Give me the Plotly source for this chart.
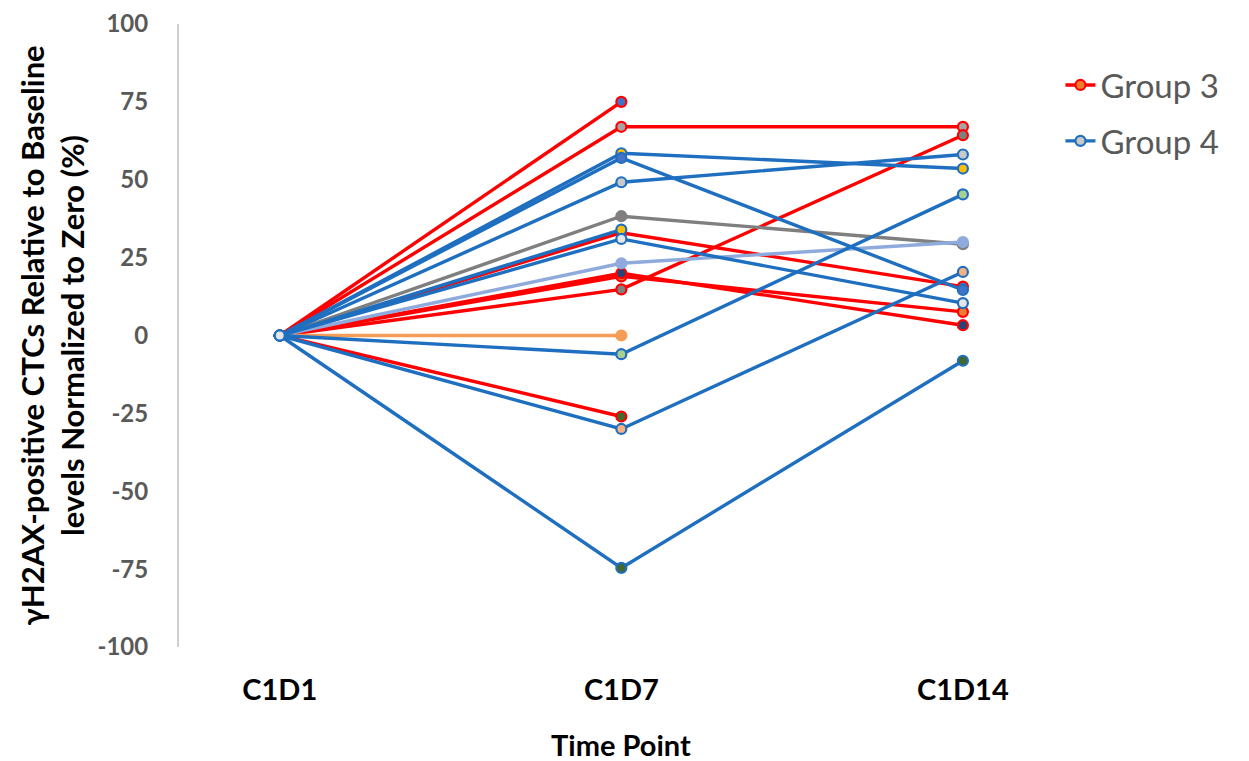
import plotly.graph_objects as go

time_points = ["C1D1", "C1D7", "C1D14"]
y_ticks = [-100, -75, -50, -25, 0, 25, 50, 75, 100]
y_tick_labels = ["-100", "-75", "-50", "-25", "0", "25", "50", "75", "100"]

# Group 3 patients (red lines)
group3 = [
    [0, 75, None],
    [0, 67, 67],
    [0, 33, 15.7],
    [0, 19, 7.6],
    [0, 20, 3.3],
    [0, 14.8, 64.3],
    [0, -26, None],
]
# Group 4 patients (blue lines)
group4 = [
    [0, 58.5, 53.6],
    [0, 57, 14.6],
    [0, 49.2, 58.1],
    [0, 34, None],
    [0, -6, 45.3],
    [0, -30, 20.4],
    [0, -74.6, -8.1],
    [0, 31, 10.4],
]
# Other patients
grey_series = [0, 38.3, 29.3]
lightblue_series = [0, 23.2, 30]
orange_series = [0, 0, None]

g3_fills = ["#4472C4", "#A5A5A5", "#4472C4", "#ED7D31", "#264478", "#7F7F7F", "#43682B"]
g4_fills = ["#FFC000", "#4472C4", "#C9C9C9", "#FFC000", "#A9D18E", "#F4B183", "#43682B", "#E7E6E6"]

RED = "#FF0000"
BLUE = "#1F6FC0"
x_idx = [0, 1, 2]

fig = go.Figure()


def add(vals, line_color, fill, name=None, show=False, group=None):
    fig.add_trace(go.Scatter(
        x=x_idx, y=vals, mode="lines+markers",
        line=dict(color=line_color, width=3.4),
        marker=dict(size=10, color=fill, line=dict(color=line_color, width=2.2)),
        name=name, showlegend=show, legendgroup=group,
        connectgaps=False,
    ))


for i, v in enumerate(group3):
    add(v, RED, g3_fills[i], name="Group 3", show=(i == 3), group="g3")
add(orange_series, "#F59D56", "#F59D56")
add(grey_series, "#7F7F7F", "#7F7F7F")
add(lightblue_series, "#8FAADC", "#8FAADC")
for i, v in enumerate(group4):
    add(v, BLUE, g4_fills[i], name="Group 4", show=(i == 2), group="g4")

FONT = "Lato, 'Open Sans', sans-serif"

fig.update_layout(
    width=1249, height=761,
    margin=dict(l=171, r=193, t=16, b=122),
    paper_bgcolor="white", plot_bgcolor="white",
    font=dict(family=FONT),
    showlegend=True,
    legend=dict(
        x=0.996, y=0.947, xanchor="left", yanchor="top",
        font=dict(size=33, color="#595959", family=FONT),
        traceorder="grouped", tracegroupgap=10,
        bgcolor="rgba(0,0,0,0)",
    ),
    xaxis=dict(
        range=[-0.295, 2.296],
        tickvals=x_idx, ticktext=time_points,
        showgrid=False, zeroline=False, showline=False, ticks="",
        tickfont=dict(size=29, color="#000000", family=FONT, weight="bold"),
        ticklabelstandoff=23,
        automargin=False,
    ),
    yaxis=dict(
        range=[-100, 100],
        tickvals=y_ticks, ticktext=y_tick_labels,
        showgrid=False, zeroline=False,
        showline=True, linecolor="#D0D0D0", linewidth=2,
        ticks="",
        tickfont=dict(size=24, color="#595959", family=FONT, weight="bold"),
        ticklabelstandoff=24,
        ticklabeloverflow="allow",
        automargin=False,
    ),
    annotations=[
        dict(
            text="γH2AX-positive CTCs Relative to Baseline<br>levels Normalized to Zero (%)",
            xref="paper", yref="paper", x=-0.1446, y=0.5,
            xanchor="center", yanchor="middle", textangle=-90, showarrow=False,
            font=dict(size=31, color="#000000", family=FONT, weight="bold"),
        ),
        dict(
            text="Time Point",
            xref="paper", yref="paper", x=0.499, y=-0.157,
            xanchor="center", yanchor="middle", showarrow=False,
            font=dict(size=29, color="#000000", family=FONT, weight="bold"),
        ),
    ],
)

fig.write_html("out.html")
